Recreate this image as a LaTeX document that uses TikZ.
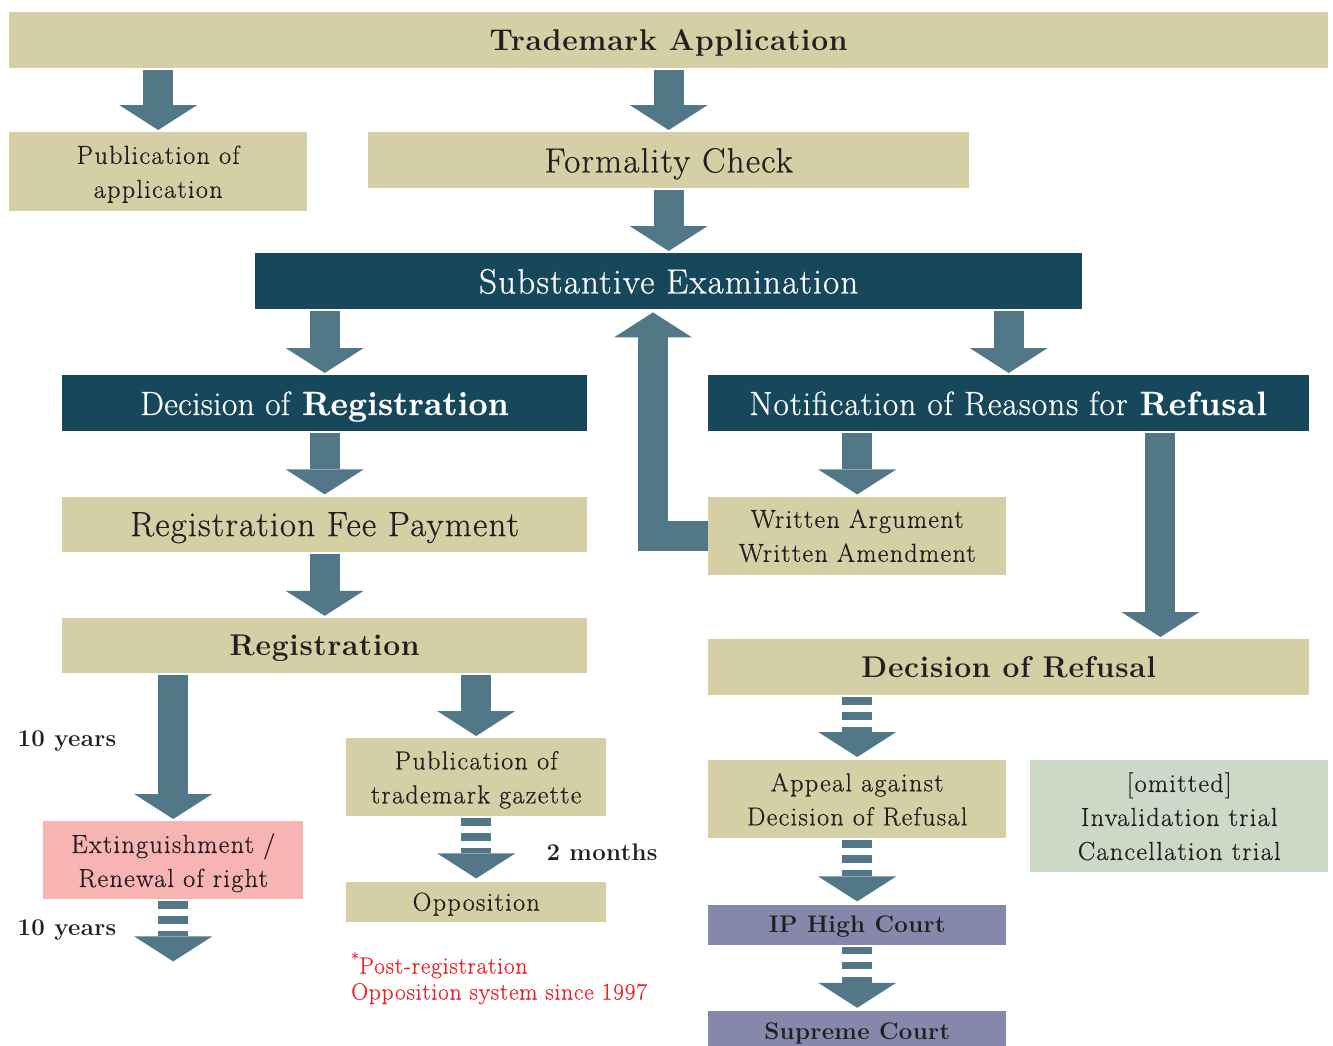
\documentclass[tikz,border=0pt]{standalone}
\usepackage{fontspec}
\setmainfont{Latin Modern Roman}
\usepackage{tikz}
\usetikzlibrary{arrows.meta,positioning,calc}
\definecolor{khaki}{HTML}{D4CFA4}
\definecolor{darkcol}{HTML}{17475A}
\definecolor{arrowcol}{HTML}{527888}
\definecolor{pinkcol}{HTML}{F8B4B2}
\definecolor{sagecol}{HTML}{CCD9C7}
\definecolor{courtcol}{HTML}{8587AB}
\definecolor{notecol}{HTML}{E8232B}
\definecolor{inkcol}{HTML}{231F20}

\begin{document}
\begin{tikzpicture}[x=1pt,y=-1pt,
  box/.style={inner sep=0pt,align=center,text=inkcol,text depth=0pt,anchor=north west},
  kb/.style={box,fill=khaki},
  db/.style={box,fill=darkcol,text=white},
  pb/.style={box,fill=pinkcol},
  gb/.style={box,fill=sagecol},
  cb/.style={box,fill=courtcol},
  big/.style={font=\fontsize{35}{42}\selectfont\addfontfeatures{LetterSpace=3.5,FakeBold=0.6}},
  mid/.style={font=\fontsize{33.5}{40}\selectfont\addfontfeatures{LetterSpace=1,FakeBold=0.6}},
  midw/.style={font=\fontsize{33.5}{40}\selectfont\addfontfeatures{LetterSpace=2.9,FakeBold=0.6}},
  bigb/.style={font=\fontsize{30}{36}\selectfont\bfseries\addfontfeatures{LetterSpace=2.5}},
  sm/.style={font=\fontsize{26}{34}\selectfont\addfontfeatures{LetterSpace=5.3,FakeBold=0.6}},
  smb/.style={font=\fontsize{24}{30}\selectfont\bfseries\addfontfeatures{LetterSpace=1.5}},
  fat/.style={draw=arrowcol,line width=30pt,
    -{Triangle[length=25pt,width=78pt,line width=0pt]},
    shorten <=2pt,shorten >=2pt},
  fatdash/.style={fat,dash pattern=on 7.5pt off 7.5pt,shorten >=3pt},
]
\fill[white] (0,0) rectangle (1333,1045);
\useasboundingbox (0,0) rectangle (1333,1045);

% top row
\node[kb,bigb,minimum width=1319pt,minimum height=56pt] (title) at (9,12) {Trademark Application};
\node[kb,sm,minimum width=298pt,minimum height=79pt] (pubapp) at (9,132) {Publication of\\application};
\node[kb,big,minimum width=601pt,minimum height=56pt] (formal) at (368,132) {Formality Check};
\node[db,big,minimum width=827pt,minimum height=56pt] (subst) at (255,253) {Substantive Examination};

% registration side
\node[db,mid,minimum width=525pt,minimum height=56pt] (decreg) at (62,375) {Decision of \textbf{Registration}};
\node[kb,big,minimum width=525pt,minimum height=55pt,below=65pt of decreg] (fee) {Registration Fee Payment};
\node[kb,bigb,minimum width=525pt,minimum height=55pt,below=66pt of fee] (reg) {Registration};
\node[pb,sm,minimum width=260pt,minimum height=78pt] (ext) at (43,821) {Extinguishment /\\Renewal of right};
\node[kb,sm,minimum width=260pt,minimum height=78pt] (gazette) at (346,738) {Publication of\\trademark gazette};
\node[kb,sm,minimum width=260pt,minimum height=40pt,below=65pt of gazette] (opp) {Opposition};

% refusal side
\node[db,midw,minimum width=601pt,minimum height=56pt] (notif) at (708,375) {Notification of Reasons for \textbf{Refusal}};
\node[kb,sm,minimum width=298pt,minimum height=78pt,below=65pt of notif.south west,anchor=north west] (written) {Written Argument\\Written Amendment};
\node[kb,bigb,minimum width=601pt,minimum height=56pt] (refusal) at (708,639) {Decision of Refusal};
\node[kb,sm,minimum width=298pt,minimum height=78pt] (appeal) at (708,760) {Appeal against\\Decision of Refusal};
\node[gb,sm,minimum width=298pt,minimum height=112pt] (omit) at (1030,760) {[omitted]\\Invalidation trial\\Cancellation trial};
\node[cb,smb,minimum width=298pt,minimum height=40pt,below=66pt of appeal] (ip) {IP High Court};
\node[cb,smb,minimum width=298pt,minimum height=40pt,below=66pt of ip] (supreme) {Supreme Court};

% labels
\node[smb,text=inkcol,anchor=west] (yrsa) at (14,741) {10 years};
\node[smb,text=inkcol,anchor=west] (yrsb) at (14,930) {10 years};
\node[smb,text=inkcol,anchor=west] (months) at (543,852) {2 months};
\node[anchor=north west,align=left,inner sep=0pt,text=notecol,
  font=\fontsize{23.5}{26}\selectfont\addfontfeatures{LetterSpace=3.2,FakeBold=0.4}] (note) at (351,952)
  {\textsuperscript{*}Post-registration\\Opposition system since 1997};

% arrows
\draw[fat] (title.south -| pubapp.north) -- (pubapp.north);
\draw[fat] (title.south -| formal.north) -- (formal.north);
\draw[fat] (formal.south) -- (subst.north);
\draw[fat] (subst.south -| decreg.north) -- (decreg.north);
\draw[fat] (subst.south -| notif.north) -- (notif.north);
\draw[fat] (decreg.south) -- (fee.north);
\draw[fat] (fee.south) -- (reg.north);
\draw[fat] (reg.south -| ext.north) -- (ext.north);
\draw[fat] (reg.south -| gazette.north) -- (gazette.north);
\draw[fat] (notif.south -| written.north) -- (written.north);
\draw[fat] ([xshift=-149pt]notif.south east) -- ([xshift=-149pt]refusal.north east);
\coordinate (back) at ([xshift=-55pt]written.west);
\draw[fat,shorten <=0pt,shorten >=3pt] (written.west) -| (back |- subst.south);

% dashed arrows
\coordinate (extend) at ([yshift=-65pt]ext.south);
\draw[fatdash] (ext.south) -- (extend);
\draw[fatdash] (gazette.south) -- (opp.north);
\draw[fatdash] (refusal.south -| appeal.north) -- (appeal.north);
\draw[fatdash] (appeal.south) -- (ip.north);
\draw[fatdash] (ip.south) -- (supreme.north);
\end{tikzpicture}
\end{document}
